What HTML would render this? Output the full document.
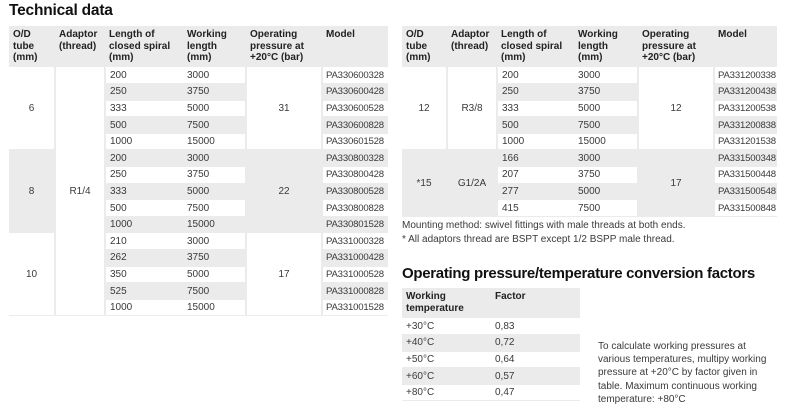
<!DOCTYPE html>
<html><head><meta charset="utf-8"><style>
*{margin:0;padding:0;box-sizing:border-box}
body{width:790px;height:416px;background:#fff;font-family:"Liberation Sans",Arial,sans-serif;color:#3a3a3a;position:relative;overflow:hidden}
h1,h2{position:absolute;font-weight:bold;color:#111;font-size:15.5px;letter-spacing:-0.2px}
h2{font-size:15px;letter-spacing:-0.3px}
table{position:absolute;border-collapse:collapse;table-layout:fixed;background:#ebebeb;font-size:10px}
th{font-weight:bold;color:#222;text-align:left;vertical-align:top;padding:3px 4px 0;line-height:11.5px;background:#ebebeb}
td{height:16.6px;padding:0 4px;border-bottom:1px solid #ebebeb;white-space:nowrap;line-height:15px}
td.c{text-align:center}
td.r{border-right:2px solid #ebebeb}
.w{background:#fff}.g{background:#ebebeb}
td.m{padding-left:3px;font-size:9.6px;letter-spacing:-0.2px}
p{position:absolute;font-size:10px;line-height:13.2px;color:#3a3a3a}
</style></head><body>
<h1 style="left:9px;top:2px">Technical data</h1>
<table style="left:9px;top:26px;width:379px">
<colgroup><col style="width:46px"><col style="width:50px"><col style="width:78px"><col style="width:63px"><col style="width:76px"><col style="width:66px"></colgroup>
<tr style="height:41px"><th>O/D tube (mm)</th><th>Adaptor (thread)</th><th>Length of closed spiral (mm)</th><th>Working length (mm)</th><th>Operating pressure at +20°C (bar)</th><th>Model</th></tr>
<tr class="w"><td rowspan="5" class="c r w">6</td><td rowspan="15" class="c r w">R1/4</td><td>200</td><td class="r">3000</td><td rowspan="5" class="c r w">31</td><td class="m">PA330600328</td></tr>
<tr class="g"><td>250</td><td class="r">3750</td><td class="m">PA330600428</td></tr>
<tr class="w"><td>333</td><td class="r">5000</td><td class="m">PA330600528</td></tr>
<tr class="g"><td>500</td><td class="r">7500</td><td class="m">PA330600828</td></tr>
<tr class="w"><td>1000</td><td class="r">15000</td><td class="m">PA330601528</td></tr>
<tr class="g"><td rowspan="5" class="c r g">8</td><td>200</td><td class="r">3000</td><td rowspan="5" class="c r g">22</td><td class="m">PA330800328</td></tr>
<tr class="w"><td>250</td><td class="r">3750</td><td class="m">PA330800428</td></tr>
<tr class="g"><td>333</td><td class="r">5000</td><td class="m">PA330800528</td></tr>
<tr class="w"><td>500</td><td class="r">7500</td><td class="m">PA330800828</td></tr>
<tr class="g"><td>1000</td><td class="r">15000</td><td class="m">PA330801528</td></tr>
<tr class="w"><td rowspan="5" class="c r w">10</td><td>210</td><td class="r">3000</td><td rowspan="5" class="c r w">17</td><td class="m">PA331000328</td></tr>
<tr class="g"><td>262</td><td class="r">3750</td><td class="m">PA331000428</td></tr>
<tr class="w"><td>350</td><td class="r">5000</td><td class="m">PA331000528</td></tr>
<tr class="g"><td>525</td><td class="r">7500</td><td class="m">PA331000828</td></tr>
<tr class="w"><td>1000</td><td class="r">15000</td><td class="m">PA331001528</td></tr>
</table>

<table style="left:402px;top:26px;width:375px">
<colgroup><col style="width:45px"><col style="width:50px"><col style="width:77px"><col style="width:64px"><col style="width:76px"><col style="width:63px"></colgroup>
<tr style="height:41px"><th>O/D tube (mm)</th><th>Adaptor (thread)</th><th>Length of closed spiral (mm)</th><th>Working length (mm)</th><th>Operating pressure at +20°C (bar)</th><th>Model</th></tr>
<tr class="w"><td rowspan="5" class="c r w">12</td><td rowspan="5" class="c r w">R3/8</td><td>200</td><td class="r">3000</td><td rowspan="5" class="c r w">12</td><td class="m">PA331200338</td></tr>
<tr class="g"><td>250</td><td class="r">3750</td><td class="m">PA331200438</td></tr>
<tr class="w"><td>333</td><td class="r">5000</td><td class="m">PA331200538</td></tr>
<tr class="g"><td>500</td><td class="r">7500</td><td class="m">PA331200838</td></tr>
<tr class="w"><td>1000</td><td class="r">15000</td><td class="m">PA331201538</td></tr>
<tr class="g"><td rowspan="4" class="c r g">*15</td><td rowspan="4" class="c r g">G1/2A</td><td>166</td><td class="r">3000</td><td rowspan="4" class="c r g">17</td><td class="m">PA331500348</td></tr>
<tr class="w"><td>207</td><td class="r">3750</td><td class="m">PA331500448</td></tr>
<tr class="g"><td>277</td><td class="r">5000</td><td class="m">PA331500548</td></tr>
<tr class="w"><td>415</td><td class="r">7500</td><td class="m">PA331500848</td></tr>
</table>
<p style="left:402px;top:219px">Mounting method: swivel fittings with male threads at both ends.</p>
<p style="left:402px;top:233px">* All adaptors thread are BSPT except 1/2 BSPP male thread.</p>

<h2 style="left:402px;top:265px">Operating pressure/temperature conversion factors</h2>
<table style="left:402px;top:288px;width:178px">
<colgroup><col style="width:89px"><col style="width:89px"></colgroup>
<tr style="height:30px"><th style="padding-top:3px">Working temperature</th><th>Factor</th></tr>
<tr class="w"><td>+30°C</td><td>0,83</td></tr>
<tr class="g"><td>+40°C</td><td>0,72</td></tr>
<tr class="w"><td>+50°C</td><td>0,64</td></tr>
<tr class="g"><td>+60°C</td><td>0,57</td></tr>
<tr class="w"><td>+80°C</td><td>0,47</td></tr>
</table>
<p style="left:598px;top:340px;width:180px">To calculate working pressures at various temperatures, multipy working pressure at +20°C by factor given in table. Maximum continuous working temperature: +80°C</p>
</body></html>
